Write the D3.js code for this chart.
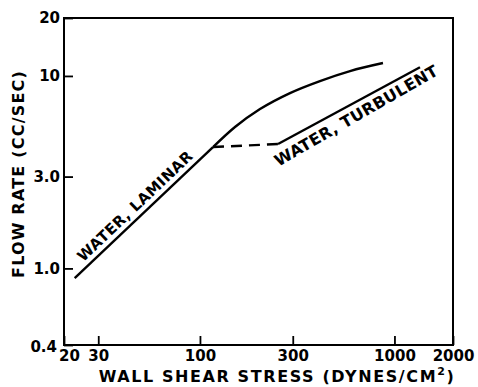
<!DOCTYPE html>
<html>
<head>
<meta charset="utf-8">
<script src="https://cdn.jsdelivr.net/npm/d3@7"></script>
<style>
  html, body { margin: 0; padding: 0; background: #fff; }
  svg { display: block; }
  text { font-family: "DejaVu Sans", sans-serif; fill: #000; }
</style>
</head>
<body>
<svg id="chart" width="478" height="387"></svg>
<script>
// Wall shear stress (dynes/cm^2) vs flow rate (cc/sec), log-log
const xTicks = [20, 30, 100, 300, 1000, 2000];
const yTicks = [0.4, 1.0, 3.0, 10, 20];
const xTickLabels = ["20", "30", "100", "300", "1000", "2000"];
const yTickLabels = ["0.4", "1.0", "3.0", "10", "20"];

// laminar branch (straight) and its continuation bending upward
const laminarX = [22.7, 116.7];
const laminarY = [0.89, 4.27];
const upperX = [116.7, 151.4, 203.6, 290.4, 414, 591, 873];
const upperY = [4.27, 5.43, 6.73, 8.15, 9.41, 10.6, 11.67];
// transition (dashed) and turbulent branch
const transitionX = [116.7, 252];
const transitionY = [4.27, 4.43];
const turbulentX = [252, 1353];
const turbulentY = [4.43, 11.1];

const svg = d3.select("#chart");
const x = d3.scaleLog().domain([20, 2000]).range([64, 453]);
const y = d3.scaleLog().domain([0.4, 20]).range([345, 18]);

const line = d3.line().x(d => x(d[0])).y(d => y(d[1]));
const curve = d3.line().x(d => x(d[0])).y(d => y(d[1])).curve(d3.curveMonotoneX);
const pts = (xs, ys) => xs.map((v, i) => [v, ys[i]]);

// frame
svg.append("rect")
  .attr("x", x.range()[0]).attr("y", y.range()[1])
  .attr("width", x.range()[1] - x.range()[0])
  .attr("height", y.range()[0] - y.range()[1])
  .attr("fill", "none").attr("stroke", "#000").attr("stroke-width", 2);

// axes with inward ticks
const xAxis = svg.append("g").attr("transform", `translate(0,${y.range()[0]})`)
  .call(d3.axisBottom(x).tickValues(xTicks).tickSizeInner(-9).tickSizeOuter(0)
    .tickPadding(5).tickFormat((d, i) => xTickLabels[i]));
const yAxis = svg.append("g").attr("transform", `translate(${x.range()[0]},0)`)
  .call(d3.axisLeft(y).tickValues(yTicks).tickSizeInner(-9).tickSizeOuter(0)
    .tickPadding(4).tickFormat((d, i) => yTickLabels[i]));

[xAxis, yAxis].forEach(g => {
  g.select(".domain").remove();
  g.selectAll(".tick line").attr("stroke", "#000").attr("stroke-width", 1.8);
  g.selectAll(".tick text")
    .attr("font-family", "DejaVu Sans").attr("font-size", 15)
    .attr("font-weight", "bold").attr("fill", "#000");
});
// corner labels are nudged apart
xAxis.selectAll(".tick text").filter(d => d === 20).attr("dx", 5);
yAxis.selectAll(".tick text").filter(d => d === 0.4).attr("dy", "0.4em").attr("dx", -3);

// data lines
svg.append("path").datum(pts(laminarX, laminarY)).attr("d", line)
  .attr("fill", "none").attr("stroke", "#000").attr("stroke-width", 2.4);
svg.append("path").datum(pts(upperX, upperY)).attr("d", curve)
  .attr("fill", "none").attr("stroke", "#000").attr("stroke-width", 2.4);
svg.append("path").datum(pts(transitionX, transitionY)).attr("d", line)
  .attr("fill", "none").attr("stroke", "#000").attr("stroke-width", 2.4)
  .attr("stroke-dasharray", "11,7");
svg.append("path").datum(pts(turbulentX, turbulentY)).attr("d", line)
  .attr("fill", "none").attr("stroke", "#000").attr("stroke-width", 2.4);

// labels set along the lines
function lineLabel(txt, xs, ys, t, offset, angleAdj, size, spacing) {
  const x0 = x(xs[0]), y0 = y(ys[0]), x1 = x(xs[1]), y1 = y(ys[1]);
  const ang = Math.atan2(y1 - y0, x1 - x0);
  const px = x0 + (x1 - x0) * t, py = y0 + (y1 - y0) * t;
  // unit normal on the upper-left side of the line
  const nx = Math.sin(ang), ny = -Math.cos(ang);
  svg.append("text")
    .attr("transform", `translate(${px + nx * offset},${py + ny * offset}) rotate(${ang * 180 / Math.PI + angleAdj})`)
    .attr("text-anchor", "middle").attr("dy", "0.36em")
    .attr("font-size", size).attr("font-weight", "bold")
    .attr("letter-spacing", spacing)
    .text(txt);
}
lineLabel("WATER, LAMINAR", laminarX, laminarY, 0.49, 11, 0, 15, 0.4);
lineLabel("WATER, TURBULENT", turbulentX, turbulentY, 0.51, -12, -1.5, 16, 0.3);

// axis titles
svg.append("text")
  .attr("x", 277).attr("y", 382).attr("text-anchor", "middle")
  .attr("font-size", 16).attr("font-weight", "bold").attr("letter-spacing", 1.6)
  .call(t => {
    t.append("tspan").text("WALL SHEAR STRESS (DYNES/CM");
    t.append("tspan").attr("font-size", 11).attr("dy", -7).text("2");
    t.append("tspan").attr("dy", 7).text(")");
  });
svg.append("text")
  .attr("transform", "translate(24,174) rotate(-90)")
  .attr("text-anchor", "middle")
  .attr("font-size", 16).attr("font-weight", "bold").attr("letter-spacing", 1.2)
  .text("FLOW RATE (CC/SEC)");
</script>
</body>
</html>
